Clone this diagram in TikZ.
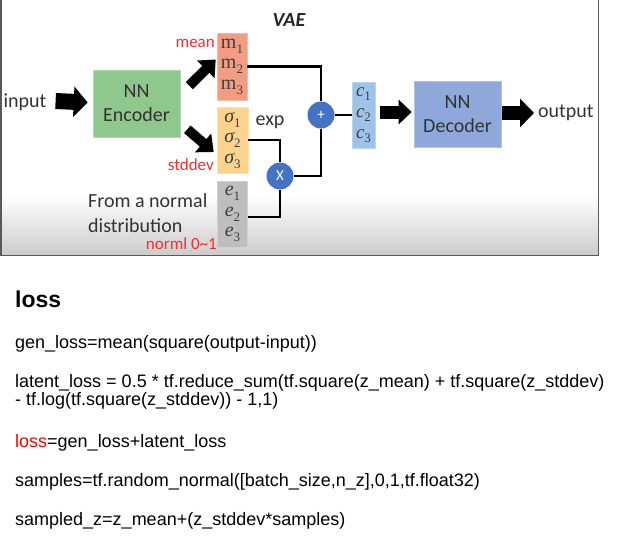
\documentclass[tikz,border=0pt]{standalone}
\usepackage{fontspec}
\setmainfont{Liberation Sans}
\newfontfamily\calib{Carlito}
\newfontfamily\vecf{Liberation Serif}
\usetikzlibrary{positioning,arrows.meta}

\definecolor{encgreen}{HTML}{8FC88C}
\definecolor{meanred}{HTML}{F29C82}
\definecolor{sigyellow}{HTML}{FDD38E}
\definecolor{epsgray}{HTML}{BEBEBE}
\definecolor{zblue}{HTML}{9DC3E6}
\definecolor{decblue}{HTML}{8EA8DC}
\definecolor{opblue}{HTML}{4472C4}
\definecolor{labred}{HTML}{FF2A2A}

% vector entry with index
\newcommand{\vsub}[2]{#1\raisebox{-0.25em}{\fontsize{13}{13}\selectfont\upshape #2}}

\begin{document}
\begin{tikzpicture}[x=1pt,y=-1pt,
		  box/.style={rectangle,fill=#1,draw=#1!70!white,line width=0.6pt,inner sep=0pt,align=center,text=black!75},
		  vec/.style={font=\vecf\fontsize{20}{20.5}\selectfont},
		  lbl/.style={font=\calib\fontsize{20}{24}\selectfont,text=black!80,inner sep=0pt},
		  redlbl/.style={font=\calib\fontsize{17}{20}\selectfont,text=labred,inner sep=0pt},
		  op/.style={circle,fill=opblue,minimum size=27pt,inner sep=0pt,text=white,font=\calib\fontsize{15}{15}\selectfont},
		  wire/.style={line width=2.5pt},
		  fat/.style={line width=16pt,-{Triangle[length=14pt,width=30pt]}},
		  fatdiag/.style={line width=10pt,-{Triangle[length=14pt,width=24pt]}},
		  code/.style={anchor=base west,inner sep=0pt,font=\fontsize{18}{19}\selectfont}
		]
		\useasboundingbox (0,0) rectangle (621,541);
		% screenshot frame
		\shade[top color=white,bottom color=black!20] (1,195) rectangle (598,255);
		\draw[black!65,line width=1.5pt] (0.75,0) -- (0.75,255.5) -- (598.5,255.5) -- (598.5,0);

		\node[font=\calib\bfseries\itshape\fontsize{20}{20}\selectfont,text=black!85] (title) at (289,20) {VAE};
		\node[lbl] (inp) at (25,102) {input};
		\node[box=encgreen,lbl,minimum width=87pt,minimum height=67pt] (enc) at (136.5,103.5) {NN\\Encoder};
		\node[box=meanred,vec,minimum width=30pt,minimum height=67pt] (mbox) at (232,66.5) {\vsub{m}{1}\\\vsub{m}{2}\\\vsub{m}{3}};
		\node[box=sigyellow,vec,minimum width=31pt,minimum height=66pt] (sbox) at (232.5,140) {\itshape\vsub{σ}{1}\\\itshape\vsub{σ}{2}\\\itshape\vsub{σ}{3}};
		\node[box=epsgray,vec,minimum width=30pt,minimum height=66pt] (ebox) at (232.5,214) {\itshape\vsub{e}{1}\\\itshape\vsub{e}{2}\\\itshape\vsub{e}{3}};
		\node[op] (plus) at (321,115) {+};
		\node[op] (times) at (280,176) {X};
		\node[box=zblue,vec,font=\vecf\fontsize{19}{21}\selectfont,minimum width=23pt,minimum height=66pt] (cbox) at (363.5,115) {\itshape\vsub{c}{1}\\\itshape\vsub{c}{2}\\\itshape\vsub{c}{3}};
		\node[box=decblue,lbl,minimum width=87pt,minimum height=66pt] (dec) at (457.5,114) {NN\\Decoder};
		\node[lbl,anchor=west] (out) at (538,113) {output};

		\node[redlbl,anchor=east] (meanlbl) at (215,43) {mean};
		\node[redlbl,anchor=east] (sdlbl) at (214,165) {stddev};
		\node[redlbl,anchor=east] (normlbl) at (217,244) {norml 0\textasciitilde1};
		\node[lbl] (explbl) at (270,122) {exp};
		\node[lbl,align=left,anchor=west,font=\calib\fontsize{20}{25}\selectfont] (src) at (88,213.5) {From a normal\\distribution};

		\draw[fat] ([shift={(9,-1)}]inp.east) -- ([shift={(-5,-1)}]enc.west);
		\draw[fatdiag] ([shift={(9,16)}]enc.north east) -- ([shift={(-1,-7)}]mbox.west);
		\draw[fatdiag] ([shift={(7,-8)}]enc.south east) -- ([shift={(-3,12)}]sbox.west);
		\draw[wire] (mbox.east) -| (plus.north);
		\draw[wire] (sbox.east) -| (times.north);
		\draw[wire] ([shift={(0,3)}]ebox.east) -| (times.south);
		\draw[wire] (times.east) -| (plus.south);
		\draw[wire] (plus.east) -- (cbox.west);
		\draw[line width=13pt,-{Triangle[length=13pt,width=24pt]}] ([shift={(5,-3)}]cbox.east) -- ([shift={(-2,-2)}]dec.west);
		\draw[line width=14pt,-{Triangle[length=14pt,width=28pt]}] ([shift={(1,-1)}]dec.east) -- ([shift={(-4,0)}]out.west);

		% loss text
		\node[code,font=\bfseries\fontsize{23}{23}\selectfont] (head) at (15,307) {loss};
		\node[code] (gen) at (15,348) {gen\_loss=mean(square(output-input))};
		\node[code] (lat1) at (15,387) {latent\_loss = 0.5 * tf.reduce\_sum(tf.square(z\_mean) + tf.square(z\_stddev)};
		\node[code] (lat2) at (15,405) {- tf.log(tf.square(z\_stddev)) - 1,1)};
		\node[code] (tot) at (15,447) {\textcolor{red}{loss}=gen\_loss+latent\_loss};
		\node[code] (smp) at (15,486) {samples=tf.random\_normal([batch\_size,n\_z],0,1,tf.float32)};
		\node[code] (zs) at (15,525) {sampled\_z=z\_mean+(z\_stddev*samples)};
		\end{tikzpicture}
\end{document}
